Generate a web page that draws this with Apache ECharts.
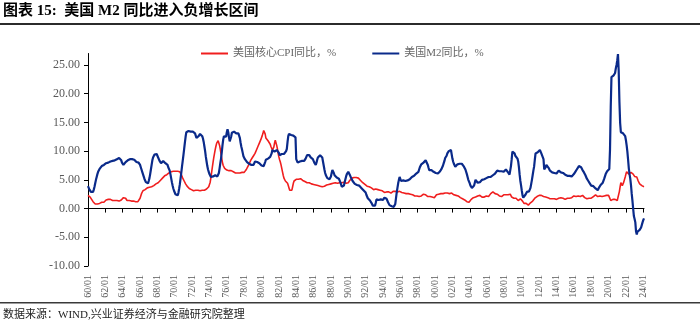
<!DOCTYPE html>
<html><head><meta charset="utf-8">
<script src="https://cdn.jsdelivr.net/npm/echarts@6/dist/echarts.min.js"></script>
<style>html,body{margin:0;padding:0;background:#fff}#c{width:700px;height:325px}</style>
</head><body><div id="c"></div>
<script>
// Monthly categories 1960/01 .. 2024/02, labelled "YY/MM"
const startYear = 1960, endYear = 2024, endMonth = 2;
const categories = [];
for (let y = startYear; y <= endYear; y++) {
  for (let m = 1; m <= 12; m++) {
    if (y === endYear && m > endMonth) break;
    categories.push(String(y % 100).padStart(2, '0') + '/' + String(m).padStart(2, '0'));
  }
}
const yTickValues = [-10, -5, 0, 5, 10, 15, 20, 25];
const seriesNames = ['美国核心CPI同比，%', '美国M2同比，%'];

// 美国核心CPI同比 (%), monthly
const coreCpi = [
2.3,2.4,2.2,2.0,1.8,1.6,1.4,1.2,1.0,0.9,0.8,0.9,
0.9,0.8,0.9,1.0,0.9,1.1,1.2,1.1,1.3,1.2,1.1,1.3,
1.4,1.5,1.3,1.4,1.6,1.5,1.4,1.6,1.5,1.3,1.4,1.3,
1.5,1.4,1.3,1.5,1.4,1.2,1.4,1.3,1.5,1.6,1.5,1.7,
1.8,1.9,1.7,1.6,1.8,1.5,1.4,1.6,1.3,1.4,1.2,1.4,
1.3,1.2,1.4,1.3,1.5,1.3,1.2,1.4,1.3,1.2,1.4,1.5,
1.8,2.2,2.6,2.9,3.1,3.2,3.3,3.3,3.4,3.5,3.6,3.6,
3.7,3.7,3.6,3.7,3.8,3.8,3.9,4.0,4.1,4.2,4.3,4.4,
4.4,4.5,4.6,4.8,4.9,5.0,5.2,5.3,5.4,5.6,5.7,5.8,
5.8,5.9,6.0,6.1,6.2,6.3,6.3,6.4,6.4,6.4,6.5,6.5,
6.5,6.5,6.6,6.6,6.5,6.6,6.5,6.4,6.2,5.9,5.6,5.3,
5.1,4.8,4.6,4.3,4.1,3.9,3.7,3.6,3.5,3.4,3.3,3.3,
3.2,3.2,3.1,3.2,3.1,3.2,3.2,3.1,3.2,3.3,3.2,3.1,
3.0,3.1,3.2,3.1,3.2,3.2,3.3,3.4,3.4,3.5,3.6,3.8,
4.0,4.6,5.4,6.3,7.2,8.1,8.9,9.6,10.3,10.9,11.4,11.7,
11.8,11.6,11.0,10.3,9.5,8.7,8.0,7.5,7.2,7.0,6.8,6.7,
6.7,6.7,6.6,6.6,6.5,6.5,6.6,6.6,6.5,6.4,6.3,6.2,
6.2,6.3,6.3,6.2,6.3,6.3,6.2,6.2,6.2,6.3,6.2,6.3,
6.3,6.4,6.6,6.8,7.0,7.3,7.5,7.8,8.1,8.4,8.6,8.8,
9.0,9.2,9.4,9.6,9.9,10.2,10.5,10.8,11.1,11.4,11.7,12.0,
12.3,12.7,13.1,13.6,13.5,13.0,12.3,12.1,12.0,11.8,11.7,11.6,
11.2,10.8,10.5,10.2,10.2,10.7,11.4,11.9,11.6,11.0,10.4,9.6,
9.0,8.5,8.1,7.6,7.0,6.4,5.8,5.3,5.0,4.8,4.6,4.5,
4.4,4.0,3.6,3.2,3.0,2.9,3.2,3.8,4.4,4.8,5.0,5.1,
5.1,5.0,5.2,5.1,5.0,5.1,5.2,5.1,5.0,4.9,4.8,4.8,
4.7,4.6,4.7,4.5,4.5,4.4,4.5,4.4,4.4,4.3,4.4,4.3,
4.2,4.2,4.1,4.1,4.0,4.1,4.0,4.0,4.0,3.9,4.0,3.9,
3.8,3.9,3.9,3.9,4.0,4.0,4.1,4.1,4.2,4.2,4.2,4.2,
4.3,4.3,4.3,4.4,4.3,4.4,4.5,4.4,4.5,4.4,4.4,4.6,
4.5,4.5,4.4,4.5,4.4,4.5,4.6,4.5,4.4,4.4,4.5,4.4,
4.5,4.7,4.9,5.0,5.2,5.3,5.3,5.4,5.4,5.4,5.3,5.4,
5.5,5.6,5.3,5.1,5.0,4.9,4.7,4.6,4.5,4.4,4.4,4.2,
4.0,3.9,3.9,3.8,3.7,3.8,3.7,3.6,3.6,3.5,3.4,3.3,
3.4,3.5,3.4,3.5,3.4,3.3,3.3,3.2,3.2,3.1,3.2,3.1,
2.9,2.8,2.8,2.8,2.8,2.9,2.9,2.8,2.9,2.8,2.8,2.7,
2.9,3.0,3.0,3.1,3.1,3.0,3.0,2.9,2.9,3.0,3.0,3.0,
3.0,2.9,2.8,2.7,2.7,2.7,2.7,2.5,2.6,2.6,2.6,2.6,
2.5,2.5,2.5,2.7,2.5,2.4,2.4,2.2,2.2,2.3,2.2,2.2,
2.2,2.3,2.1,2.1,2.2,2.2,2.2,2.5,2.5,2.3,2.4,2.4,
2.4,2.1,2.1,2.2,2.0,2.1,2.1,1.9,2.0,2.1,2.1,1.9,
2.0,2.2,2.4,2.3,2.4,2.5,2.5,2.6,2.6,2.5,2.6,2.6,
2.6,2.7,2.7,2.6,2.6,2.7,2.7,2.7,2.6,2.6,2.8,2.7,
2.6,2.6,2.4,2.5,2.5,2.3,2.2,2.4,2.2,2.2,2.0,1.9,
1.9,1.7,1.7,1.5,1.6,1.5,1.5,1.3,1.2,1.3,1.1,1.1,
1.1,1.2,1.6,1.8,1.7,1.9,1.8,1.7,2.0,2.0,2.2,2.2,
2.3,2.4,2.3,2.2,2.2,2.0,2.1,2.1,2.0,2.1,2.1,2.2,
2.1,2.1,2.1,2.3,2.4,2.6,2.7,2.8,2.9,2.7,2.6,2.6,
2.7,2.7,2.5,2.3,2.2,2.2,2.2,2.1,2.1,2.2,2.3,2.4,
2.5,2.3,2.4,2.3,2.3,2.4,2.5,2.5,2.5,2.2,2.0,1.8,
1.7,1.8,1.8,1.9,1.8,1.7,1.5,1.4,1.5,1.7,1.7,1.8,
1.6,1.3,1.1,0.9,0.9,0.9,0.9,0.9,0.8,0.6,0.8,0.8,
1.0,1.1,1.2,1.3,1.5,1.6,1.8,2.0,2.0,2.1,2.2,2.2,
2.3,2.2,2.3,2.3,2.3,2.2,2.1,1.9,2.0,2.0,1.9,1.9,
1.9,2.0,1.9,1.7,1.7,1.6,1.7,1.8,1.7,1.7,1.7,1.7,
1.6,1.6,1.7,1.8,2.0,1.9,1.9,1.7,1.7,1.8,1.7,1.6,
1.6,1.7,1.8,1.8,1.7,1.8,1.8,1.8,1.9,1.9,2.0,2.1,
2.2,2.3,2.2,2.1,2.2,2.2,2.2,2.3,2.2,2.1,2.1,2.2,
2.3,2.2,2.0,1.9,1.7,1.7,1.7,1.7,1.7,1.8,1.7,1.8,
1.8,1.8,2.1,2.1,2.2,2.3,2.4,2.2,2.2,2.1,2.2,2.2,
2.2,2.1,2.0,2.1,2.0,2.1,2.2,2.4,2.4,2.3,2.3,2.3,
2.3,2.4,2.1,1.4,1.2,1.2,1.6,1.7,1.7,1.6,1.6,1.6,
1.4,1.3,1.6,3.0,3.8,4.5,4.3,4.0,4.0,4.6,4.9,5.5,
6.0,6.4,6.5,6.2,6.0,5.9,5.9,6.3,6.6,6.3,6.0,5.7,
5.6,5.5,5.6,5.5,5.3,4.8,4.7,4.3,4.1,4.0,4.0,3.9,
3.9,3.8
];

// 美国M2同比 (%), monthly
const m2 = [
3.9,3.6,3.3,3.1,2.9,2.8,2.8,2.9,3.3,3.8,4.4,5.0,
5.5,6.0,6.4,6.7,6.9,7.1,7.2,7.4,7.5,7.5,7.6,7.6,
7.8,7.9,7.7,7.9,8.0,7.8,8.1,8.2,8.0,8.1,8.3,8.2,
8.2,8.4,8.3,8.5,8.6,8.4,8.7,8.8,8.9,8.6,8.4,8.0,
7.8,7.6,7.7,7.9,8.1,8.3,8.2,8.4,8.5,8.5,8.6,8.5,
8.5,8.6,8.4,8.3,8.5,8.4,8.2,8.1,8.3,8.2,8.0,7.9,
7.6,7.2,6.8,6.4,6.0,5.6,5.2,4.9,4.6,4.5,4.4,4.4,
4.8,5.3,6.0,6.8,7.6,8.4,8.9,9.2,9.4,9.6,9.5,9.5,
9.3,8.9,8.6,8.3,8.0,7.9,8.0,8.1,8.3,8.2,8.0,7.9,
8.1,7.9,7.6,7.2,6.9,6.6,6.0,5.3,4.6,4.0,3.5,3.1,
2.8,2.5,2.3,2.2,2.3,2.7,3.4,4.2,5.2,6.2,7.3,8.3,
9.3,10.4,11.5,12.5,13.3,13.5,13.6,13.5,13.4,13.5,13.4,13.3,
13.3,13.4,13.5,13.3,13.1,12.7,12.3,12.1,12.2,12.6,12.9,13.0,
13.0,12.9,12.6,12.2,11.6,10.8,10.0,9.0,8.2,7.4,6.8,6.4,
6.0,5.7,5.5,5.4,5.5,5.6,5.7,5.8,5.8,5.9,5.7,5.6,
5.7,6.2,7.0,7.9,8.7,9.8,11.0,12.0,12.6,12.8,12.7,12.5,
13.3,13.8,13.3,12.4,11.7,11.8,12.5,13.2,13.5,13.5,13.4,13.3,
13.2,13.1,13.3,13.2,13.1,12.8,12.3,11.5,10.8,10.3,9.7,9.1,
8.8,8.6,8.5,8.3,8.1,8.0,7.9,7.8,7.8,7.7,7.6,7.5,
7.5,7.6,7.9,8.2,8.3,8.2,8.1,8.3,8.1,7.9,7.7,7.6,
7.5,7.4,7.5,7.4,7.7,8.1,8.5,8.7,8.6,8.7,8.9,8.9,
9.0,9.2,9.6,10.2,10.5,10.3,9.9,9.8,10.0,10.2,10.3,10.1,
9.7,9.3,9.2,9.4,9.5,9.6,9.7,9.5,9.6,9.8,10.0,10.4,
11.6,12.6,13.0,12.8,12.9,12.8,12.9,12.8,12.7,12.6,12.6,12.4,
8.6,8.3,8.0,8.0,8.1,8.2,8.0,8.1,8.3,8.2,8.3,8.3,
8.5,8.7,9.0,9.3,9.6,9.5,9.3,9.1,8.9,8.7,8.6,8.6,
8.3,8.0,7.8,7.6,8.0,8.5,8.9,9.0,9.2,9.3,9.4,9.4,
8.9,8.2,7.5,6.8,6.2,5.8,5.5,5.3,5.2,5.0,5.1,5.2,
5.6,6.2,6.7,6.6,6.2,5.8,5.5,5.5,5.4,5.5,5.4,5.2,
4.9,4.6,4.2,3.8,3.5,3.6,4.0,4.6,5.1,5.6,6.0,6.3,
6.4,6.2,5.9,5.6,5.3,5.1,4.8,4.6,4.5,4.3,4.1,4.0,
4.1,4.2,4.1,4.0,3.9,3.7,3.6,3.4,3.3,3.2,3.2,3.1,
2.8,2.4,2.1,1.8,1.6,1.5,1.4,1.2,1.0,0.7,0.5,0.3,
0.2,0.5,1.0,1.6,1.8,1.7,1.5,1.4,1.5,1.6,1.5,1.5,
1.5,1.7,1.9,2.1,2.0,1.7,1.4,1.1,0.8,0.6,0.5,0.5,
0.4,0.3,0.2,0.3,0.2,0.8,1.8,2.8,3.6,4.4,5.0,5.5,
5.2,4.8,4.6,4.7,4.9,4.8,4.7,4.8,4.9,5.0,4.9,4.9,
5.0,5.1,5.2,5.3,5.5,5.4,5.5,5.7,5.8,6.0,6.1,6.1,
6.1,6.4,6.8,7.2,7.5,7.7,7.8,7.9,8.0,8.2,8.3,8.4,
8.4,8.1,7.6,7.1,6.7,6.6,6.5,6.7,6.6,6.5,6.4,6.4,
6.3,6.2,6.1,6.0,6.1,6.2,6.3,6.5,6.7,6.9,7.2,7.5,
7.9,8.3,8.8,9.0,9.2,9.6,9.9,10.0,10.2,10.3,10.2,9.9,
8.7,8.2,7.8,7.5,7.3,7.4,7.6,7.7,7.8,7.9,7.8,7.9,
7.9,7.8,7.7,7.5,7.3,7.0,6.8,6.5,6.0,5.5,5.0,4.7,
4.4,4.0,3.8,3.6,3.5,3.7,4.0,4.5,5.0,5.2,4.8,4.5,
4.4,4.4,4.6,4.8,4.9,5.0,4.9,5.0,5.1,5.2,5.2,5.3,
5.4,5.5,5.5,5.4,5.4,5.5,5.6,5.7,5.8,5.9,6.0,6.1,
6.2,6.4,6.6,6.7,6.6,6.5,6.4,6.4,6.5,6.4,6.3,6.4,
6.3,6.5,6.8,6.9,6.6,6.3,6.1,5.9,5.8,7.4,8.6,9.9,
10.2,10.0,9.6,9.2,9.3,8.9,8.7,8.2,7.2,5.9,4.8,4.0,
3.1,2.3,1.9,1.8,2.0,2.4,2.7,2.9,3.1,3.1,3.0,2.8,
3.6,4.3,5.0,5.8,6.6,7.3,8.5,9.6,9.8,9.9,9.8,9.9,
10.1,10.2,9.9,9.6,9.4,9.3,8.6,6.8,6.7,7.2,7.6,7.9,
7.6,7.1,6.8,6.6,6.5,6.4,6.3,6.2,6.1,6.2,6.1,6.0,
6.1,6.3,6.4,6.6,6.7,6.5,6.3,6.2,6.1,6.2,6.0,5.9,
5.9,5.8,5.9,5.7,5.6,5.8,5.7,5.6,5.5,5.6,5.7,5.8,
6.0,6.2,6.4,6.7,6.8,6.9,7.1,7.4,7.6,7.5,7.2,7.0,
6.7,6.5,6.3,6.1,5.8,5.5,5.2,5.0,4.8,4.6,4.4,4.2,
4.0,3.9,3.8,3.9,3.8,3.6,3.5,3.4,3.3,3.2,3.3,3.7,
4.0,4.1,4.2,4.3,4.5,4.8,5.2,5.6,6.0,6.3,6.5,6.7,
6.8,6.9,10.3,17.7,22.9,23.2,23.1,23.2,23.3,23.6,24.4,25.0,
25.8,26.9,24.0,18.6,14.9,13.3,13.0,13.1,13.1,13.0,12.9,12.6,
11.9,11.0,9.9,8.5,7.0,6.0,5.2,4.1,2.6,1.4,0.0,-1.3,
-1.8,-2.4,-4.0,-4.5,-4.0,-3.7,-3.9,-3.7,-3.6,-3.3,-3.0,-2.4,
-2.0,-1.7
];

const serif = "'Liberation Serif','Times New Roman','Noto Sans CJK SC',serif";
const chart = echarts.init(document.getElementById('c'), null, {renderer: 'canvas'});
chart.setOption({
  animation: false,
  backgroundColor: '#ffffff',
  graphic: [
    {type: 'text', left: 3, top: 4, style: {text: '图表 15:  美国 M2 同比进入负增长区间', font: "bold 15px 'Liberation Serif','Noto Sans CJK SC',serif", fill: '#000'}},
    {type: 'rect', shape: {x: 0, y: 23, width: 700, height: 2}, style: {fill: '#2b2b2b'}},
    {type: 'rect', shape: {x: 0, y: 302, width: 700, height: 1.5}, style: {fill: '#3a3a3a'}},
    {type: 'text', left: 3, top: 310, style: {text: '数据来源：WIND,兴业证券经济与金融研究院整理', font: "11px 'Liberation Serif','Noto Sans CJK SC',serif", fill: '#222'}}
  ],
  legend: {
    left: 196, top: 43, itemWidth: 27, itemHeight: 2, itemGap: 36, icon: 'rect',
    textStyle: {fontFamily: serif, fontSize: 11, color: '#666666'},
    data: seriesNames
  },
  grid: {left: 88, right: 56, top: 53.5, bottom: 59, containLabel: false},
  xAxis: [
    {type: 'category', data: categories, boundaryGap: false,
     axisLine: {onZero: true, lineStyle: {color: '#000', width: 1}},
     axisTick: {show: true, interval: 23, length: 4, inside: false, lineStyle: {color: '#000'}},
     axisLabel: {show: false}, splitLine: {show: false}},
    {type: 'category', data: categories, boundaryGap: false, position: 'bottom',
     axisLine: {show: false, onZero: false}, axisTick: {show: false},
     axisLabel: {interval: 23, rotate: 90, fontSize: 10, color: '#595959', fontFamily: serif, margin: 9},
     splitLine: {show: false}}
  ],
  yAxis: {
    type: 'value', min: -10, max: 27, interval: 5,
    axisLine: {show: true, onZero: false, lineStyle: {color: '#000', width: 1}},
    axisTick: {show: true, length: 4, customValues: yTickValues, lineStyle: {color: '#000'}},
    axisLabel: {customValues: yTickValues, formatter: v => v.toFixed(2), fontFamily: serif, fontSize: 12, color: '#595959', margin: 8},
    splitLine: {show: false}
  },
  series: [
    {name: seriesNames[0], type: 'line', data: coreCpi, xAxisIndex: 0, showSymbol: false, symbol: 'none',
     lineStyle: {color: '#F01E1E', width: 1.6}, itemStyle: {color: '#F01E1E'}, z: 2},
    {name: seriesNames[1], type: 'line', data: m2, xAxisIndex: 0, showSymbol: false, symbol: 'none',
     lineStyle: {color: '#0A2A8A', width: 2.2}, itemStyle: {color: '#0A2A8A'}, z: 3}
  ]
});
</script></body></html>
